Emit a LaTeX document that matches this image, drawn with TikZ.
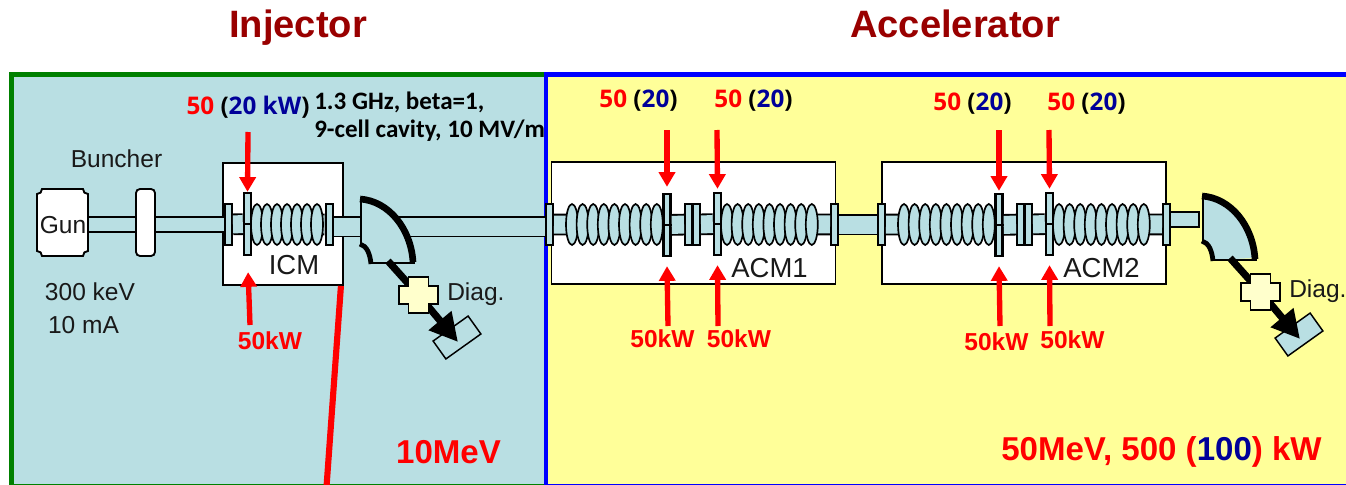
\documentclass[tikz,border=0pt]{standalone}
\usepackage{fontspec}
\setmainfont{Liberation Sans}
\newfontfamily\tahfont{Open Sans}
\newfontfamily\calfont{Carlito}
\usetikzlibrary{positioning, arrows.meta, calc}
\newcommand{\px}{0.75pt}
\newcommand{\cellrow}[3]{%
  \foreach \n in {1,...,#3} {%
    \draw [cell] ({#1+(\n-1)*#2},224.5) ellipse [x radius=6,y radius=20.5];
  }%
}
\definecolor{panelblue}{HTML}{B9DFE3}
\definecolor{panelyellow}{HTML}{FFFF99}
\definecolor{titlered}{HTML}{990000}
\definecolor{powerblue}{HTML}{000099}
\definecolor{crossfill}{HTML}{FFFFCC}
\tikzset{
  plain/.style={font=\fontsize{18.4}{22}\selectfont, text=black!90, inner sep=0pt},
  modtext/.style={font=\fontsize{20.6}{24}\selectfont, text=black!90, inner sep=0pt},
  title/.style={font=\bfseries\fontsize{28.6}{32}\selectfont, text=titlered, inner sep=0pt, anchor=base},
  energy/.style={font=\bfseries\fontsize{24.8}{28}\selectfont, text=red, inner sep=0pt},
  kwlabel/.style={font=\bfseries\fontsize{18.4}{22}\selectfont, text=red, inner sep=0pt},
  rflabel/.style={font=\tahfont\bfseries\fontsize{18.2}{20}\selectfont, inner sep=0pt},
  modbox/.style={draw, fill=white, line width=1.4pt, inner sep=0pt},
  flange/.style={draw, fill=panelblue, line width=1.5pt, inner sep=0pt,
    minimum width=7*\px, minimum height=41*\px},
  coupler/.style={draw, fill=panelblue, line width=1.8pt, inner sep=0pt,
    minimum width=7*\px, minimum height=62*\px},
  cell/.style={draw, fill=panelblue, line width=1.25pt},
  pipe/.style={double=panelblue, double distance=18*\px, line width=1.4pt},
  thinpipe/.style={double=panelblue, double distance=12.5*\px, line width=1.4pt},
  rfarrow/.style={red, line width=4pt, -{Triangle[width=12pt,length=11pt]}},
}
\begin{document}
\begin{tikzpicture}[x=\px, y=-\px]
  \useasboundingbox (0,0) rectangle (1346,485);

  % panels
  \fill [panelblue] (11,75) rectangle (546,485);
  \fill [panelyellow] (546,75) rectangle (1346,485);
  \draw [green!50!black, line width=0.8pt] (11,484.5) -- (546,484.5);
  \draw [blue, line width=0.8pt] (546,484.5) -- (1346,484.5);
  \draw [green!50!black, line width=3.8pt] (11.5,485) -- (11.5,74.5) -- (546,74.5);
  \draw [blue, line width=3.6pt] (546,485) -- (546,74.5) -- (1346,74.5);

  \node [title] (injector) at (298,38) {Injector};
  \node [title] (accelerator) at (955,38) {Accelerator};

  % injector
  \draw [fill=white, line width=1.4pt] (42,189) -- (83,189) .. controls (83,192) and (85,194) .. (88,194)
    -- (88,251) .. controls (85,251) and (83,253) .. (83,256) -- (42,256)
    .. controls (42,253) and (40,251) .. (37,251) -- (37,194)
    .. controls (40,194) and (42,192) .. (42,189) -- cycle;
  \node [modbox, minimum width=120*\px, minimum height=122*\px] (icm) at (283,224) {};
  \coordinate (cableEnd) at (326.5,487);
  \draw [red, line width=4.6pt] ($(icm.south east)+(-3,0)$) -- (cableEnd);
  \node [flange] (icmIn) at (228.5,224.5) {};
  \node [coupler] (icmCoupler) at (247.5,224) {};
  \node [flange] (icmOut) at (329,224.5) {};
  \node [plain, minimum width=51*\px, minimum height=67*\px] (gun) at (63,222.5) {\raisebox{-8pt}[0pt][0pt]{Gun}};
  \draw [thinpipe] (gun.east |- icmIn) -- (icmIn);
  \node [draw, fill=white, rounded corners=3pt, line width=1.4pt, minimum width=19*\px,
    minimum height=67*\px, inner sep=0pt] (buncher) at (145.5,222.5) {};
  \draw [pipe] (icmIn) -- (icmCoupler);
  \draw [pipe] (icmCoupler) -- (icmOut);
  \cellrow{257}{10}{7}
  \draw [line width=1.8pt] (icmCoupler.west) -- (icmCoupler.east);

  \node [plain] (buncherText) at (116.5,159) {Buncher};
  \node [plain] (voltage) at (90,292) {300 keV};
  \node [plain] (current) at (83.5,325) {10 mA};
  \node [modtext] (icmText) at (294,265) {ICM};
  \node [rflabel] (icmPower) at (248,107) {\textcolor{red}{50} (\textcolor{powerblue}{20 kW})};
  \node [font=\calfont\bfseries\fontsize{18.8}{21}\selectfont, align=left, anchor=north west, inner sep=0pt]
    (cavityText) at (314,92) {1.3 GHz, beta=1,\\9-cell cavity, 10 MV/m};
  \node [kwlabel] (icmLow) at (270,341) {50kW};
  \coordinate (icmTop) at (248,132);
  \coordinate (icmBottom) at (250,325);
  \draw [rfarrow] (icmTop) -- (icmCoupler.north);
  \draw [rfarrow, shorten >=12pt] (icmBottom) -- (icmCoupler.south);

  % accelerator modules
  \foreach \dx/\bx/\mod/\ga/\pa/\pb/\py/\lax/\lbx/\lay/\lby in
    {0/693.5/ACM1/-6/638.5/753.5/102/662.5/739/340/340,
     332/692/ACM2/-2/640.5/754.5/105/664.5/740.5/343/341} {%
    \begin{scope}[shift={(\dx,-1)}]
      \node [modbox, minimum width=284*\px, minimum height=122*\px] (\mod) at (\bx,224) {};
      \node [flange] (\mod In) at (549.5,225.5) {};
      \node [coupler] (\mod CA) at (667,226) {};
      \node [flange] (\mod FA) at (688.5,225.5) {};
      \node [flange] (\mod FB) at (696.5,225.5) {};
      \node [coupler] (\mod CB) at (717.5,225) {};
      \node [flange] (\mod Out) at (834.5,225.5) {};
      \draw [pipe] (\mod In) -- (\mod CA);
      \draw [pipe] (\mod CA) -- (\mod FA);
      \draw [pipe] (\mod FB) -- (\mod CB);
      \draw [pipe] (\mod CB) -- (\mod Out);
      \begin{scope}[yshift=-1*\px]
        \cellrow{572}{10.6}{9}
        \cellrow{727}{10.6}{9}
      \end{scope}
      \draw [line width=1.8pt] (\mod CA.west) -- (\mod CA.east);
      \draw [line width=1.8pt] (\mod CB.west) -- (\mod CB.east);
      \draw [line width=2.6pt] (\mod FA.east) -- (\mod FB.west);
      \node [modtext] (\mod text) at (769.5,269) {\mod};
      \coordinate (\mod ta) at (667,131);
      \coordinate (\mod tb) at (717,131);
      \coordinate (\mod ba) at (668,327);
      \coordinate (\mod bb) at (718,327);
      \draw [rfarrow] (\mod ta) -- ($(\mod CA.north)+(0,\ga)$);
      \draw [rfarrow] (\mod tb) -- ($(\mod CB.north)+(0,-3)$);
      \draw [rfarrow] (\mod ba) -- ($(\mod CA.south)+(0,9)$);
      \draw [rfarrow] (\mod bb) -- ($(\mod CB.south)+(0,9)$);
      \node [rflabel] (\mod pa) at (\pa,\py) {\textcolor{red}{50} (\textcolor{powerblue}{20})};
      \node [rflabel] (\mod pb) at (\pb,\py) {\textcolor{red}{50} (\textcolor{powerblue}{20})};
      \node [kwlabel] (\mod la) at (\lax,\lay) {50kW};
      \node [kwlabel] (\mod lb) at (\lbx,\lby) {50kW};
    \end{scope}
  }
  \coordinate (bendExit) at (400,226.5);
  \draw [pipe] (icmOut.east |- bendExit) -- (bendExit);
  \draw [pipe] (bendExit) -- (bendExit -| ACM1In.west);
  \draw [pipe] (ACM1Out.east) -- (ACM1Out.east -| ACM2In.west);
  \node [draw, fill=panelblue, line width=1.1pt, minimum width=29*\px, minimum height=15*\px,
    inner sep=0pt] (stub) at (1184.5,219.5) {};

  \node [energy] (injEnergy) at (448.5,452) {10MeV};
  \node [energy] (accEnergy) at (1161.5,452)
    {50MeV, 500 (\textcolor{powerblue}{100}) kW};

  % bends and diagnostics
  \foreach \dx/\dy/\nm in {0/0/A, 842/-3/B} {%
    \begin{scope}[shift={(361+\dx,199+\dy)}]
      \fill [panelblue] (0,0) .. controls (28,2) and (50,30) .. (52,62) -- (11,64)
        .. controls (9,55) and (6,47) .. (0,45) -- cycle;
      \draw [line width=2.2pt] (0,-1) -- (0,46);
      \draw [line width=2.2pt] (10,64) -- (54,64);
      \draw [line width=5pt] (-1,0) .. controls (28,2) and (50,30) .. (52,63);
      \draw [line width=3.6pt] (-1,45) .. controls (6,47) and (9,55) .. (10,65);
      \coordinate (bend\nm) at (27,62);
      \coordinate (tip\nm) at (97,143);
      \coordinate (cross\nm) at (57.5,96);
      \node [draw, fill=panelblue, line width=1.1pt, minimum width=43*\px, minimum height=22*\px,
        inner sep=0pt, rotate=35.5] (det\nm) at (96,138.5) {};
      \draw [line width=5.4pt] (bend\nm) -- (cross\nm);
      \draw [line width=5.4pt, -{Triangle[width=21pt,length=21pt]}] (cross\nm) -- (tip\nm);
      \draw [fill=crossfill, line width=1.4pt] (47.5,78) -- (67.5,78) -- (67.5,87) -- (77,87)
        -- (77,105) -- (67.5,105) -- (67.5,114) -- (47.5,114) -- (47.5,105) -- (38,105)
        -- (38,87) -- (47.5,87) -- cycle;
      \node [plain, anchor=west] (diag\nm) at (86,95.5) {Diag.};
    \end{scope}
  }
\end{tikzpicture}
\end{document}
